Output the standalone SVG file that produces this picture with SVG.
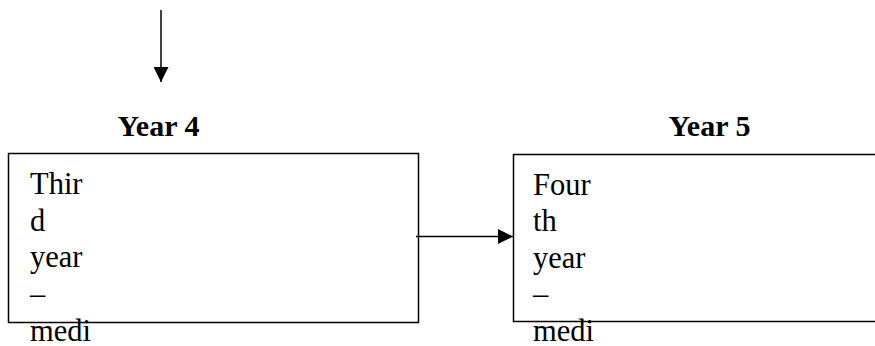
<svg xmlns="http://www.w3.org/2000/svg" width="875" height="346" viewBox="0 0 875 346">
<defs>
<style>
.box{fill:#fff;stroke:#000;stroke-width:1.5}
.title{font-family:"Liberation Serif",serif;font-weight:bold;font-size:30px;fill:#000}
.body{font-family:"Liberation Serif",serif;font-size:30.5px;fill:#000}
.conn{stroke:#000;stroke-width:1.5;fill:none}
</style>
<marker id="ah" viewBox="0 0 10 10" refX="10" refY="5" markerUnits="userSpaceOnUse" markerWidth="15" markerHeight="15" orient="auto" preserveAspectRatio="none">
<path d="M0,0 L10,5 L0,10 Z" fill="#000"/>
</marker>
</defs>
<g id="node-year4">
<text class="title" x="158.5" y="136" text-anchor="middle">Year 4</text>
<rect class="box" x="8.5" y="153.5" width="410" height="169"/>
<text class="body" x="30" y="194">Thir</text>
<text class="body" x="30" y="231">d</text>
<text class="body" x="30" y="267">year</text>
<text class="body" x="30" y="304">–</text>
<text class="body" x="30" y="341">medi</text>
</g>
<g id="node-year5">
<text class="title" x="709.5" y="136" text-anchor="middle">Year 5</text>
<rect class="box" x="513.5" y="154.5" width="380" height="167"/>
<text class="body" x="533" y="195">Four</text>
<text class="body" x="533" y="231">th</text>
<text class="body" x="533" y="268">year</text>
<text class="body" x="533" y="304">–</text>
<text class="body" x="533" y="341">medi</text>
</g>
<g id="connectors">
<line class="conn" x1="161" y1="10" x2="161" y2="82" marker-end="url(#ah)"/>
<line class="conn" x1="416" y1="236.5" x2="513" y2="236.5" marker-end="url(#ah)"/>
</g>
</svg>
